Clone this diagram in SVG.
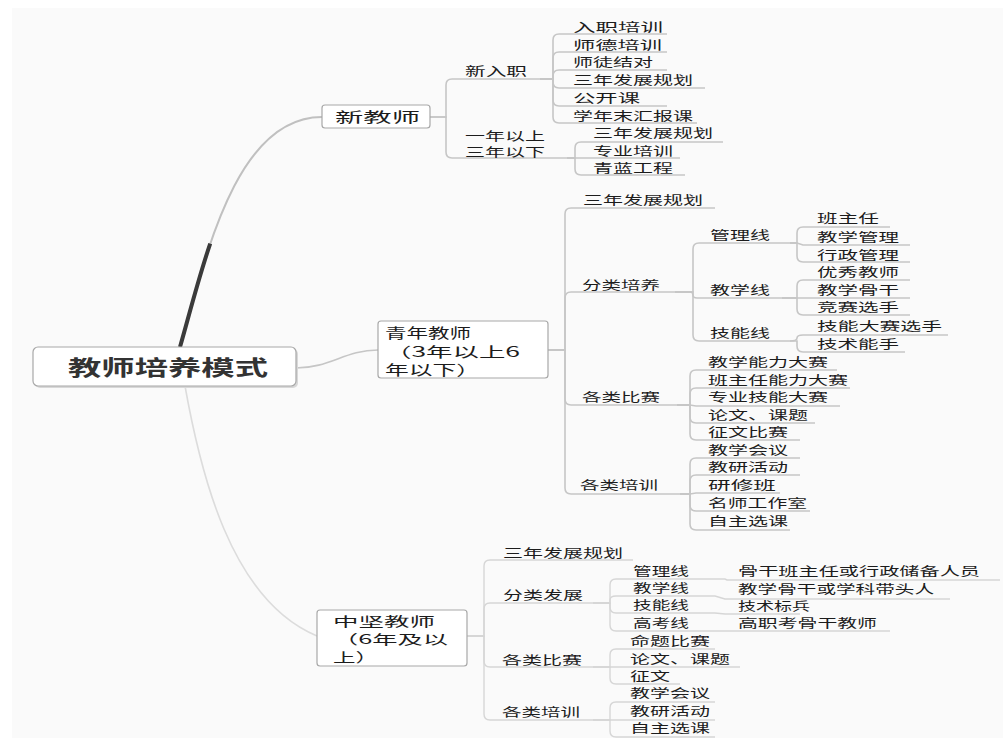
<svg xmlns="http://www.w3.org/2000/svg" width="1003" height="738" viewBox="0 0 1003 738">
<style>
.t{font-family:"Noto Sans CJK SC","Noto Sans",sans-serif;font-size:12.5px;fill:#1c1c1c;}
.t1{font-size:14px;}
.t2{font-size:13px;}
.t3{font-size:12px;}
.root{font-size:21px;font-weight:bold;fill:#333;}
.c{fill:none;stroke:#c6c6c6;stroke-width:1.6;}
.f{fill:none;stroke:#d6d6d6;stroke-width:1.4;}
.box{fill:#fff;stroke:#a8a8a8;stroke-width:1.2;}
</style>
<rect x="0" y="0" width="1003" height="738" fill="#fff"/>
<rect x="12" y="8" width="991" height="730" fill="#fafafa"/>
<g id="connectors">
<path d="M180,347 C205,260 235,117 322,117" fill="none" stroke="#c0c0c0" stroke-width="2"/>
<path d="M180,347 C188.75,316.55 198.11,279.24 210.2,243.6" fill="none" stroke="#3a3a3a" stroke-width="4"/>
<path class="c" d="M296,368 C330,368 345,350 378,350"/>
<path d="M185,386 C200,470 230,600 317,636" fill="none" stroke="#dcdcdc" stroke-width="1.6"/>
<path class="c" d="M430,117 H446 V85 Q446,79 452,79 H540"/>
<path class="c" d="M430,117 H446 V152 Q446,158 452,158 H567"/>
<path class="c" d="M540,79 H553 V40 Q553,34 559,34 H667"/>
<path class="c" d="M540,79 H553 V58 Q553,52 559,52 H667"/>
<path class="c" d="M540,79 H553 V76 Q553,70 559,70 H667"/>
<path class="c" d="M540,79 H553 V82 Q553,88 559,88 H705"/>
<path class="c" d="M540,79 H553 V100 Q553,106 559,106 H667"/>
<path class="c" d="M540,79 H553 V117 Q553,123 559,123 H697"/>
<path class="c" d="M567,158 H575 V148 Q575,142 581,142 H723"/>
<path class="c" d="M567,158 H680"/>
<path class="c" d="M567,158 H575 V169 Q575,175 581,175 H685"/>
<path class="c" d="M548,350 H565 V214 Q565,208 571,208 H715"/>
<path class="c" d="M548,350 H565 V298 Q565,292 571,292 H675"/>
<path class="c" d="M548,350 H565 V399 Q565,405 571,405 H677"/>
<path class="c" d="M548,350 H565 V488 Q565,494 571,494 H680"/>
<path class="c" d="M675,292 H693 V249 Q693,243 699,243 H790"/>
<path class="c" d="M675,292 H690 Q693,292 693,295 Q693,298 697,298 H782"/>
<path class="c" d="M675,292 H693 V335 Q693,341 699,341 H790"/>
<path class="c" d="M790,243 H797 V233 Q797,227 803,227 H890"/>
<path class="c" d="M790,243 H797 L803,245 H910"/>
<path class="c" d="M790,243 H797 V256 Q797,262 803,262 H910"/>
<path class="c" d="M782,298 H797 V286 Q797,280 803,280 H910"/>
<path class="c" d="M782,298 H910"/>
<path class="c" d="M782,298 H797 V309 Q797,315 803,315 H910"/>
<path class="c" d="M790,341 Q797,341 797,338 Q797,335 803,335 H948"/>
<path class="c" d="M790,341 H797 V346 Q797,352 803,352 H905"/>
<path class="c" d="M677,405 H690 V376 Q690,370 696,370 H837"/>
<path class="c" d="M677,405 H690 V394 Q690,388 696,388 H850"/>
<path class="c" d="M677,405 H690 L696,406 H840"/>
<path class="c" d="M677,405 H690 V417 Q690,423 696,423 H815"/>
<path class="c" d="M677,405 H690 V434 Q690,440 696,440 H800"/>
<path class="c" d="M680,494 H690 V464 Q690,458 696,458 H800"/>
<path class="c" d="M680,494 H690 V481 Q690,475 696,475 H800"/>
<path class="c" d="M680,494 H690 L696,493 H780"/>
<path class="c" d="M680,494 H690 V505 Q690,511 696,511 H810"/>
<path class="c" d="M680,494 H690 V524 Q690,530 696,530 H790"/>
<path class="f" d="M467,636 H484 V566 Q484,560 490,560 H633"/>
<path class="f" d="M467,636 H484 V609 Q484,603 490,603 H593"/>
<path class="f" d="M467,636 H484 V661 Q484,667 490,667 H593"/>
<path class="f" d="M467,636 H484 V714 Q484,720 490,720 H593"/>
<path class="f" d="M593,603 H610 V585 Q610,579 616,579 H700"/>
<path class="f" d="M593,603 H610 V600 Q610,596 616,596 H700"/>
<path class="f" d="M593,603 H610 V607 Q610,613 616,613 H700"/>
<path class="f" d="M593,603 H610 V625 Q610,631 616,631 H705"/>
<path class="f" d="M593,667 H610 V655 Q610,649 616,649 H715"/>
<path class="f" d="M593,667 H740"/>
<path class="f" d="M593,667 H610 V678 Q610,684 616,684 H680"/>
<path class="f" d="M593,720 H610 V708 Q610,702 616,702 H715"/>
<path class="f" d="M593,720 H715"/>
<path class="f" d="M593,720 H610 V731 Q610,737 616,737 H715"/>
<path class="f" d="M700,579 H725 L727,580 H1000"/>
<path class="f" d="M700,596 H715 L725,599 H950"/>
<path class="f" d="M700,613 H715 L725,614 H800"/>
<path class="f" d="M705,631 H890"/>
</g>
<g id="root">
<rect x="35" y="349" width="263" height="39" rx="5" fill="#d8d8d8"/>
<rect class="box" x="33" y="347" width="263" height="39" rx="5" stroke="#999"/>
<text class="t root" x="68" y="375" textLength="200" lengthAdjust="spacingAndGlyphs">教师培养模式</text>
</g>
<g id="n-xinjiaoshi">
<rect class="box" x="322" y="105" width="108" height="23" rx="3"/>
<text class="t t1" x="335" y="122" textLength="85" lengthAdjust="spacingAndGlyphs">新教师</text>
</g>
<g id="n-qingnian">
<rect class="box" x="378" y="321" width="170" height="57" rx="3"/>
<text class="t t1" x="385" y="338" textLength="86" lengthAdjust="spacingAndGlyphs">青年教师</text>
<text class="t t1" x="385" y="357" textLength="135" lengthAdjust="spacingAndGlyphs">（3年以上6</text>
<text class="t t1" x="385" y="375" textLength="95" lengthAdjust="spacingAndGlyphs">年以下）</text>
</g>
<g id="n-zhongjian">
<rect class="box" x="317" y="610" width="150" height="56" rx="3"/>
<text class="t t2" x="333" y="626" textLength="102" lengthAdjust="spacingAndGlyphs">中坚教师</text>
<text class="t t2" x="333" y="644" textLength="115" lengthAdjust="spacingAndGlyphs">（6年及以</text>
<text class="t t2" x="333" y="662" textLength="45" lengthAdjust="spacingAndGlyphs">上）</text>
</g>
<g id="n-xinruzhi"><text class="t" x="465" y="76" textLength="62" lengthAdjust="spacingAndGlyphs">新入职</text></g>
<g id="n-yinian"><text class="t t3" x="465" y="141" textLength="80" lengthAdjust="spacingAndGlyphs">一年以上</text><text class="t t3" x="465" y="157" textLength="80" lengthAdjust="spacingAndGlyphs">三年以下</text></g>
<g id="n-a1"><text class="t" x="573" y="32" textLength="90" lengthAdjust="spacingAndGlyphs">入职培训</text></g>
<g id="n-a2"><text class="t" x="573" y="50" textLength="89" lengthAdjust="spacingAndGlyphs">师德培训</text></g>
<g id="n-a3"><text class="t" x="573" y="67" textLength="80" lengthAdjust="spacingAndGlyphs">师徒结对</text></g>
<g id="n-a4"><text class="t" x="573" y="85" textLength="120" lengthAdjust="spacingAndGlyphs">三年发展规划</text></g>
<g id="n-a5"><text class="t" x="573" y="103" textLength="67" lengthAdjust="spacingAndGlyphs">公开课</text></g>
<g id="n-a6"><text class="t" x="573" y="121" textLength="120" lengthAdjust="spacingAndGlyphs">学年末汇报课</text></g>
<g id="n-b1"><text class="t" x="593" y="138" textLength="120" lengthAdjust="spacingAndGlyphs">三年发展规划</text></g>
<g id="n-b2"><text class="t" x="593" y="156" textLength="80" lengthAdjust="spacingAndGlyphs">专业培训</text></g>
<g id="n-b3"><text class="t" x="593" y="173" textLength="80" lengthAdjust="spacingAndGlyphs">青蓝工程</text></g>
<g id="n-q1"><text class="t" x="583" y="205" textLength="120" lengthAdjust="spacingAndGlyphs">三年发展规划</text></g>
<g id="n-q2"><text class="t" x="582" y="290" textLength="78" lengthAdjust="spacingAndGlyphs">分类培养</text></g>
<g id="n-q3"><text class="t" x="582" y="402" textLength="78" lengthAdjust="spacingAndGlyphs">各类比赛</text></g>
<g id="n-q4"><text class="t" x="580" y="490" textLength="78" lengthAdjust="spacingAndGlyphs">各类培训</text></g>
<g id="n-g1"><text class="t" x="710" y="240" textLength="60" lengthAdjust="spacingAndGlyphs">管理线</text></g>
<g id="n-g2"><text class="t" x="710" y="295" textLength="60" lengthAdjust="spacingAndGlyphs">教学线</text></g>
<g id="n-g3"><text class="t" x="710" y="338" textLength="60" lengthAdjust="spacingAndGlyphs">技能线</text></g>
<g id="n-h1"><text class="t" x="817" y="223" textLength="62" lengthAdjust="spacingAndGlyphs">班主任</text></g>
<g id="n-h2"><text class="t" x="817" y="242" textLength="82" lengthAdjust="spacingAndGlyphs">教学管理</text></g>
<g id="n-h3"><text class="t" x="817" y="260" textLength="82" lengthAdjust="spacingAndGlyphs">行政管理</text></g>
<g id="n-h4"><text class="t" x="817" y="277" textLength="82" lengthAdjust="spacingAndGlyphs">优秀教师</text></g>
<g id="n-h5"><text class="t" x="817" y="295" textLength="82" lengthAdjust="spacingAndGlyphs">教学骨干</text></g>
<g id="n-h6"><text class="t" x="817" y="312" textLength="82" lengthAdjust="spacingAndGlyphs">竞赛选手</text></g>
<g id="n-h7"><text class="t" x="817" y="331" textLength="125" lengthAdjust="spacingAndGlyphs">技能大赛选手</text></g>
<g id="n-h8"><text class="t" x="817" y="349" textLength="82" lengthAdjust="spacingAndGlyphs">技术能手</text></g>
<g id="n-s1"><text class="t" x="708" y="367" textLength="120" lengthAdjust="spacingAndGlyphs">教学能力大赛</text></g>
<g id="n-s2"><text class="t" x="708" y="385" textLength="140" lengthAdjust="spacingAndGlyphs">班主任能力大赛</text></g>
<g id="n-s3"><text class="t" x="708" y="402" textLength="120" lengthAdjust="spacingAndGlyphs">专业技能大赛</text></g>
<g id="n-s4"><text class="t" x="708" y="420" textLength="100" lengthAdjust="spacingAndGlyphs">论文、课题</text></g>
<g id="n-s5"><text class="t" x="708" y="437" textLength="80" lengthAdjust="spacingAndGlyphs">征文比赛</text></g>
<g id="n-p1"><text class="t" x="708" y="455" textLength="80" lengthAdjust="spacingAndGlyphs">教学会议</text></g>
<g id="n-p2"><text class="t" x="708" y="472" textLength="80" lengthAdjust="spacingAndGlyphs">教研活动</text></g>
<g id="n-p3"><text class="t" x="708" y="490" textLength="68" lengthAdjust="spacingAndGlyphs">研修班</text></g>
<g id="n-p4"><text class="t" x="708" y="508" textLength="99" lengthAdjust="spacingAndGlyphs">名师工作室</text></g>
<g id="n-p5"><text class="t" x="708" y="526" textLength="80" lengthAdjust="spacingAndGlyphs">自主选课</text></g>
<g id="n-z1"><text class="t" x="503" y="558" textLength="120" lengthAdjust="spacingAndGlyphs">三年发展规划</text></g>
<g id="n-z2"><text class="t" x="503" y="600" textLength="80" lengthAdjust="spacingAndGlyphs">分类发展</text></g>
<g id="n-z3"><text class="t" x="502" y="665" textLength="80" lengthAdjust="spacingAndGlyphs">各类比赛</text></g>
<g id="n-z4"><text class="t" x="502" y="717" textLength="78" lengthAdjust="spacingAndGlyphs">各类培训</text></g>
<g id="n-y1"><text class="t" x="633" y="576" textLength="56" lengthAdjust="spacingAndGlyphs">管理线</text></g>
<g id="n-y2"><text class="t" x="633" y="593" textLength="56" lengthAdjust="spacingAndGlyphs">教学线</text></g>
<g id="n-y3"><text class="t" x="633" y="610" textLength="56" lengthAdjust="spacingAndGlyphs">技能线</text></g>
<g id="n-y4"><text class="t" x="633" y="628" textLength="56" lengthAdjust="spacingAndGlyphs">高考线</text></g>
<g id="n-y5"><text class="t" x="630" y="646" textLength="80" lengthAdjust="spacingAndGlyphs">命题比赛</text></g>
<g id="n-y6"><text class="t" x="630" y="664" textLength="100" lengthAdjust="spacingAndGlyphs">论文、课题</text></g>
<g id="n-y7"><text class="t" x="630" y="681" textLength="40" lengthAdjust="spacingAndGlyphs">征文</text></g>
<g id="n-y8"><text class="t" x="630" y="698" textLength="80" lengthAdjust="spacingAndGlyphs">教学会议</text></g>
<g id="n-y9"><text class="t" x="630" y="716" textLength="80" lengthAdjust="spacingAndGlyphs">教研活动</text></g>
<g id="n-y10"><text class="t" x="630" y="733" textLength="80" lengthAdjust="spacingAndGlyphs">自主选课</text></g>
<g id="n-x1"><text class="t" x="738" y="576" textLength="242" lengthAdjust="spacingAndGlyphs">骨干班主任或行政储备人员</text></g>
<g id="n-x2"><text class="t" x="738" y="594" textLength="196" lengthAdjust="spacingAndGlyphs">教学骨干或学科带头人</text></g>
<g id="n-x3"><text class="t" x="738" y="611" textLength="72" lengthAdjust="spacingAndGlyphs">技术标兵</text></g>
<g id="n-x4"><text class="t" x="738" y="628" textLength="139" lengthAdjust="spacingAndGlyphs">高职考骨干教师</text></g>
</svg>
